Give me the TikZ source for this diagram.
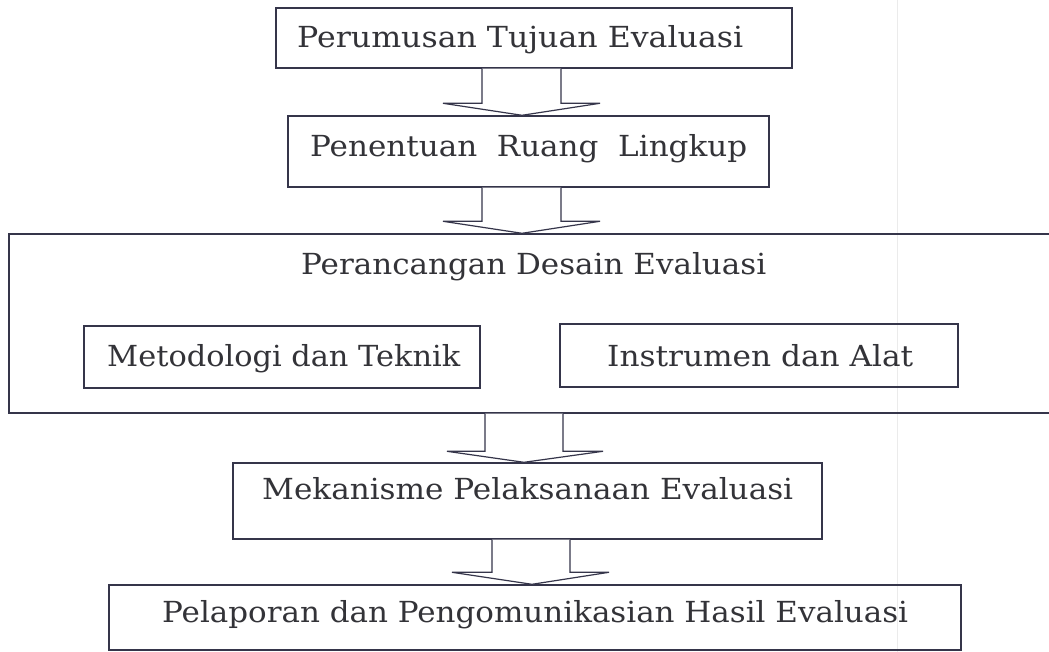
\documentclass[tikz,border=0pt]{standalone}
\usepackage{fontspec}
\usepackage{graphicx}
\setmainfont{DejaVu Serif}
\usetikzlibrary{calc}
\definecolor{ln}{HTML}{35354A}
\definecolor{tx}{HTML}{333338}
\begin{document}
\begin{tikzpicture}[x=1pt,y=1pt,
  box/.style 2 args={draw=ln, line width=1.4pt, inner sep=0pt, minimum width=#1, minimum height=#2},
  lbl/.style={anchor=base west, inner sep=0pt, text=tx, font=\fontsize{29}{33}\selectfont},
  barrow/.style={draw=ln, line width=1.2pt, line join=miter, fill=white}]
\useasboundingbox (0,0) rectangle (1049,652);
\clip (0,0) rectangle (1049,652);
\fill[white] (0,0) rectangle (1049,652);
% faint scan fold line
\draw[color=black!8, line width=0.8pt] (897,0) -- (897,652);
% boxes
\node[box={516pt}{60pt}] (b1) at (534,614) {};
\node[box={481pt}{71pt}] (b2) at (528.5,500.5) {};
\node[box={1051pt}{179pt}] (big) at (534.5,328.5) {};
\node[box={396pt}{62pt}] (m) at (282,295) {};
\node[box={398pt}{63pt}] (ins) at (759,296.5) {};
\node[box={589pt}{76pt}] (b4) at (527.5,151) {};
\node[box={852pt}{65pt}] (b5) at (535,34.5) {};
% labels
\node[lbl] (t1) at (297,604) {\resizebox{446pt}{\height}{Perumusan Tujuan Evaluasi}};
\node[lbl] (t2) at (310,495) {\resizebox{437pt}{\height}{Penentuan\ \ Ruang\ \ Lingkup}};
\node[lbl] (t3) at (301,377) {\resizebox{465pt}{\height}{Perancangan Desain Evaluasi}};
\node[lbl] (tm) at (107,285) {\resizebox{353pt}{\height}{Metodologi dan Teknik}};
\node[lbl] (ti) at (607,285) {\resizebox{306pt}{\height}{Instrumen dan Alat}};
\node[lbl] (t4) at (262,152) {\resizebox{531pt}{\height}{Mekanisme Pelaksanaan Evaluasi}};
\node[lbl] (t5) at (162,29) {\resizebox{746pt}{\height}{Pelaporan dan Pengomunikasian Hasil Evaluasi}};
% block arrows
\draw[barrow] let \p1=(b1.south), \p2=(b2.north) in
  (482pt,\y1) -- ({482pt},{\y2+12pt}) -- ({443pt},{\y2+12pt}) -- (522pt,\y2)
  -- ({600pt},{\y2+12pt}) -- ({561pt},{\y2+12pt}) -- (561pt,\y1);
\draw[barrow] let \p1=(b2.south), \p2=(big.north) in
  (482pt,\y1) -- ({482pt},{\y2+12pt}) -- ({443pt},{\y2+12pt}) -- (522pt,\y2)
  -- ({600pt},{\y2+12pt}) -- ({561pt},{\y2+12pt}) -- (561pt,\y1);
\draw[barrow] let \p1=(big.south), \p2=(b4.north) in
  (485pt,\y1) -- ({485pt},{\y2+11pt}) -- ({447pt},{\y2+11pt}) -- (524pt,\y2)
  -- ({603pt},{\y2+11pt}) -- ({563pt},{\y2+11pt}) -- (563pt,\y1);
\draw[barrow] let \p1=(b4.south), \p2=(b5.north) in
  (492pt,\y1) -- ({492pt},{\y2+12pt}) -- ({452pt},{\y2+12pt}) -- (532pt,\y2)
  -- ({609pt},{\y2+12pt}) -- ({570pt},{\y2+12pt}) -- (570pt,\y1);
\end{tikzpicture}
\end{document}
